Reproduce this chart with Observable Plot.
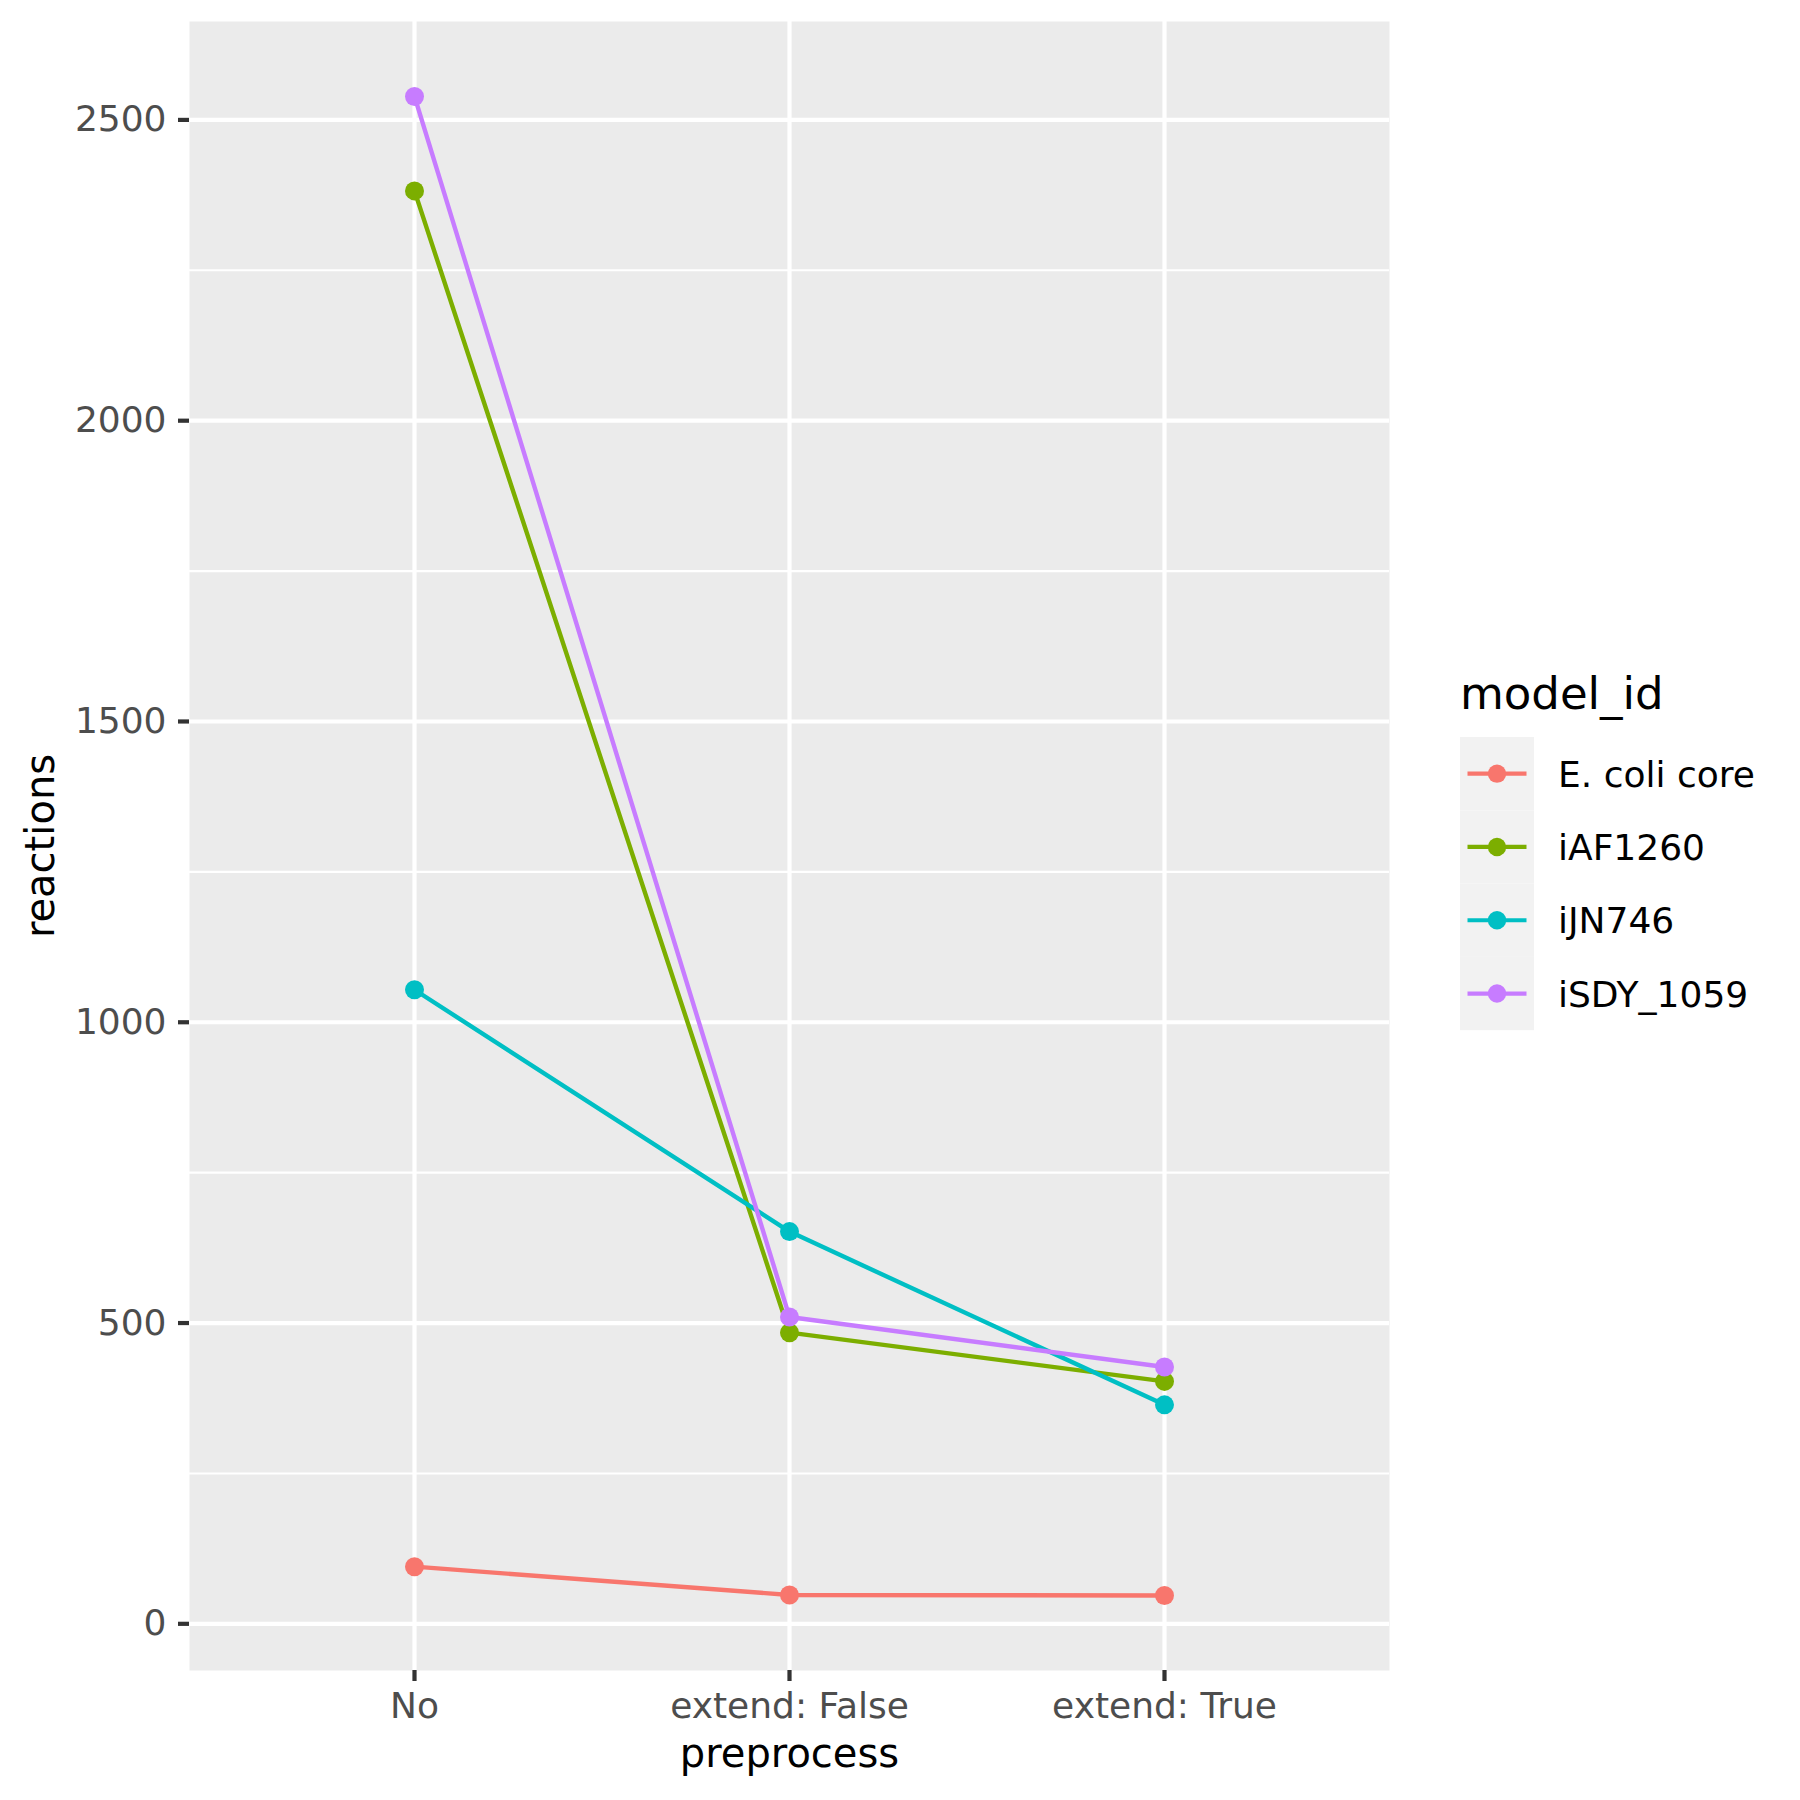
<!DOCTYPE html>
<html>
<head>
<meta charset="utf-8">
<script src="https://cdn.jsdelivr.net/npm/d3@7"></script>
<script src="https://cdn.jsdelivr.net/npm/@observablehq/plot@0.6"></script>
<style>
  html, body { margin: 0; padding: 0; background: #ffffff; }
  #chart { position: relative; width: 1800px; height: 1800px; }
</style>
</head>
<body>
<div id="chart"></div>
<script>
// ---- data ----
const categories = ["No", "extend: False", "extend: True"];
const models = ["E. coli core", "iAF1260", "iJN746", "iSDY_1059"];
const ecoliCore = [95, 48, 47];
const iAF1260 = [2382, 484, 403];
const iJN746 = [1054, 652, 364];
const iSDY1059 = [2539, 510, 427];
const palette = ["#F8766D", "#7CAE00", "#00BFC4", "#C77CFF"];
const majorTicks = [0, 500, 1000, 1500, 2000, 2500];
const minorTicks = [250, 750, 1250, 1750, 2250];
const xTitle = "preprocess";
const yTitle = "reactions";
const legendTitle = "model_id";

const seriesValues = [ecoliCore, iAF1260, iJN746, iSDY1059];
const data = [];
models.forEach((m, i) => {
  categories.forEach((c, j) => data.push({model: m, preprocess: c, reactions: seriesValues[i][j]}));
});

const allVals = data.map(d => d.reactions);
const lo = d3.min(allVals), hi = d3.max(allVals), pad = (hi - lo) * 0.05;

const W = 1800, H = 1800;
const mL = 189, mR = 411, mT = 21, mB = 130;

const plot = Plot.plot({
  width: W, height: H,
  marginLeft: mL, marginRight: mR, marginTop: mT, marginBottom: mB,
  style: {fontFamily: "'DejaVu Sans', sans-serif", background: "#ffffff", overflow: "visible"},
  x: {type: "point", domain: categories, padding: 0.6, label: null},
  y: {domain: [lo - pad, hi + pad], label: null},
  color: {domain: models, range: palette},
  marks: [
    Plot.frame({fill: "#EBEBEB", stroke: null}),
    Plot.ruleY(minorTicks, {stroke: "#ffffff", strokeWidth: 2.1}),
    Plot.ruleY(majorTicks, {stroke: "#ffffff", strokeWidth: 4.2}),
    Plot.ruleX(categories, {stroke: "#ffffff", strokeWidth: 4.2}),
    Plot.line(data, {x: "preprocess", y: "reactions", z: "model", stroke: "model", strokeWidth: 4.4}),
    Plot.dot(data, {x: "preprocess", y: "reactions", fill: "model", r: 9.5, stroke: null}),
    Plot.axisY({ticks: majorTicks, tickFormat: d3.format("d"), tickSize: 11, tickPadding: 12, fontSize: 36,
      stroke: "#333333", strokeWidth: 4.2, fill: "#4D4D4D", label: null}),
    Plot.axisX({tickSize: 11, tickPadding: 11, fontSize: 36,
      stroke: "#333333", strokeWidth: 4.2, fill: "#4D4D4D", label: null}),
    Plot.text([xTitle], {frameAnchor: "bottom", lineAnchor: "bottom", dy: 96, textAnchor: "middle",
      fontSize: 40, fill: "#000000", text: d => d}),
    Plot.text([yTitle], {frameAnchor: "left", lineAnchor: "bottom", dx: 53 - mL, rotate: -90,
      textAnchor: "middle", fontSize: 40, fill: "#000000", text: d => d})
  ]
});

document.getElementById("chart").appendChild(plot);

// ---- legend (drawn in the same svg from the color scale) ----
const colorScale = plot.scale("color");
const svg = d3.select(plot);
const lg = svg.append("g").attr("font-family", "'DejaVu Sans', sans-serif").attr("text-anchor", "start");
const keyX = 1460, keyTop = 737, keyW = 74, keyH = 73.3;
lg.append("text").attr("x", 1460).attr("y", 709).attr("font-size", 45)
  .attr("text-anchor", "start").attr("fill", "#000000").text(legendTitle);
colorScale.domain.forEach((m, i) => {
  const y0 = keyTop + i * keyH;
  const cy = y0 + keyH / 2;
  const col = colorScale.range[i];
  lg.append("rect").attr("x", keyX).attr("y", y0).attr("width", keyW).attr("height", keyH)
    .attr("fill", "#F2F2F2");
  lg.append("line").attr("x1", keyX + 7.5).attr("x2", keyX + keyW - 7.5)
    .attr("y1", cy).attr("y2", cy).attr("stroke", col).attr("stroke-width", 4.2);
  lg.append("circle").attr("cx", keyX + keyW / 2).attr("cy", cy).attr("r", 9.2).attr("fill", col);
  lg.append("text").attr("x", 1558).attr("y", cy).attr("dy", "0.36em").attr("font-size", 36)
    .attr("text-anchor", "start").attr("fill", "#000000").text(m);
});
</script>
</body>
</html>
